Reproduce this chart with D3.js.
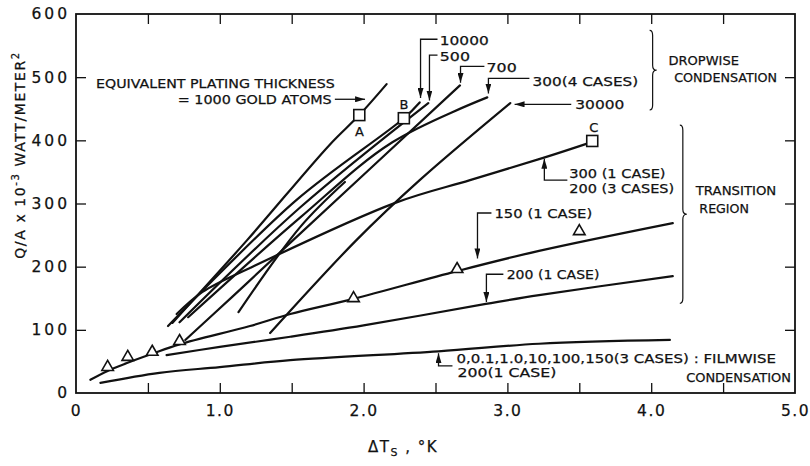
<!DOCTYPE html>
<html lang="en">
<head>
<meta charset="utf-8">
<title>Condensation heat flux vs plating thickness</title>
<script src="https://cdn.jsdelivr.net/npm/d3@7"></script>
<style>
  body { margin: 0; background: #fff; }
  text { font-family: "DejaVu Sans", sans-serif; fill: #111; stroke: #111; stroke-width: 0.25px; }
</style>
</head>
<body>
<div id="chart"></div>
<script>
// x = delta Ts (K), y = Q/A x 10^-3 (W/m^2)
let curve1000 = [[0.67,111],[1.19,242],[1.76,392],[1.97,440],[2.16,489]];
let curve10000 = [[0.64,106],[1.53,305],[2.28,435],[2.39,460]];
let curve500 = [[0.72,112],[1.56,294],[2.45,459]];
let curve700 = [[0.76,84],[1.09,153],[1.51,242],[2.67,487]];
let curve300a = [[0.78,120],[1.56,278],[2.2,397],[2.86,468]];
let curve300b = [[1.13,128],[1.56,263],[1.87,334]];
let curve30000 = [[1.35,95],[1.95,242],[2.39,337],[3.02,459]];
let curveC = [[0.70,125],[0.88,160],[1.21,198],[2.22,301],[2.74,337],[3.26,373],[3.57,396]];
let curve150 = [[0.10,21],[0.22,35],[0.35,47],[0.53,62],[0.72,77],[1.21,106],[1.49,125],
                [1.93,149],[2.65,193],[3.22,225],[4.15,269]];
let curve200 = [[0.63,60],[1.0,73],[1.49,89],[2.0,107],[2.85,141],[3.22,155],[4.15,185]];
let curveFilm = [[0.17,16],[0.58,32],[1.0,41],[1.49,52],[2.52,66],[3.22,78],[4.13,84]];

let triangles = [[0.22,41],[0.36,57],[0.53,65],[0.72,82],[1.93,150],[2.65,196],[3.5,256]];
let squares = [[1.97,440],[2.28,435],[3.59,399]];

let xTicks = [0.5,1,1.5,2,2.5,3,3.5,4,4.5];
let xLabelValues = [0,1,2,3,4,5];
let xLabels = ['0','1.0','2.0','3.0','4.0','5.0'];
let yTicks = [100,200,300,400,500];
let yLabelValues = [0,100,200,300,400,500,600];

let curves = [curve1000, curve10000, curve500, curve700, curve300a, curve300b,
              curve30000, curveC, curve150, curve200, curveFilm];

let width = 810;
let height = 466;
let svg = d3.select('#chart').append('svg')
  .attr('width', width)
  .attr('height', height)

let x = d3.scaleLinear().domain([0,5]).range([76,795])
let y = d3.scaleLinear().domain([0,600]).range([393,14])

svg.append('defs').append('marker')
  .attr('id','arrow')
  .attr('viewBox','0 0 10 6')
  .attr('refX',10).attr('refY',3)
  .attr('markerWidth',10).attr('markerHeight',6)
  .attr('markerUnits','userSpaceOnUse')
  .attr('orient','auto')
  .append('path').attr('d','M0,0 L10,3 L0,6 z').attr('fill','#111')

// frame
svg.append('rect')
  .attr('x', x(0)).attr('y', y(600))
  .attr('width', x(5)-x(0)).attr('height', y(0)-y(600))
  .attr('fill','none').attr('stroke','#111').attr('stroke-width',1.8)

// inward ticks on all four sides
function ticksOnly(axis, tr) {
  let g = svg.append('g').attr('transform', tr).call(axis)
  g.select('.domain').remove()
  g.selectAll('line').attr('stroke','#111').attr('stroke-width',1.3)
  return g
}
ticksOnly(d3.axisBottom(x).tickValues(xTicks).tickSize(-10).tickFormat(''), `translate(0,${y(0)})`)
ticksOnly(d3.axisTop(x).tickValues(xTicks).tickSize(-10).tickFormat(''), `translate(0,${y(600)})`)
ticksOnly(d3.axisLeft(y).tickValues(yTicks).tickSize(-10).tickFormat(''), `translate(${x(0)},0)`)
ticksOnly(d3.axisRight(y).tickValues(yTicks).tickSize(-10).tickFormat(''), `translate(${x(5)},0)`)

// tick labels
let gx = svg.append('g').attr('transform', `translate(0,${y(0)})`)
  .call(d3.axisBottom(x).tickValues(xLabelValues).tickSize(0).tickPadding(12)
        .tickFormat((d,i) => xLabels[i]))
gx.select('.domain').remove()
gx.selectAll('text').attr('font-size','15.5px').attr('letter-spacing','1.5px')
  .attr('font-family','DejaVu Sans').attr('fill','#111')

let gy = svg.append('g').attr('transform', `translate(${x(0)},0)`)
  .call(d3.axisLeft(y).tickValues(yLabelValues).tickSize(0).tickPadding(6))
gy.select('.domain').remove()
gy.selectAll('text').attr('font-size','15.5px').attr('letter-spacing','3px')
  .attr('font-family','DejaVu Sans').attr('fill','#111')

// curves
let line = d3.line()
  .x(d => x(d[0]))
  .y(d => y(d[1]))
  .curve(d3.curveCatmullRom.alpha(0.5))

svg.append('g').selectAll('path')
  .data(curves)
  .enter()
  .append('path')
  .attr('d', line)
  .attr('fill','none')
  .attr('stroke','#111')
  .attr('stroke-width',2.2)
  .attr('stroke-linecap','round')

// open markers
svg.append('g').selectAll('path')
  .data(triangles)
  .enter()
  .append('path')
  .attr('transform', d => `translate(${x(d[0])},${y(d[1])})`)
  .attr('d', d3.symbol(d3.symbolTriangle, 58))
  .attr('fill','#fff').attr('stroke','#111').attr('stroke-width',1.6)

svg.append('g').selectAll('rect')
  .data(squares)
  .enter()
  .append('rect')
  .attr('x', d => x(d[0]) - 5.5)
  .attr('y', d => y(d[1]) - 5.5)
  .attr('width',11).attr('height',11)
  .attr('fill','#fff').attr('stroke','#111').attr('stroke-width',1.6)

// annotations (positions in data units)
let notes = [
  {t:'EQUIVALENT PLATING THICKNESS', x:0.139, x2:1.80, y:490},
  {t:'= 1000 GOLD ATOMS', x:0.708, x2:1.778, y:465},
  {t:'10000', x:2.53, x2:2.87, y:559},
  {t:'500', x:2.53, x2:2.74, y:533},
  {t:'700', x:2.855, x2:3.065, y:516},
  {t:'300(4 CASES)', x:3.175, x2:3.91, y:494},
  {t:'30000', x:3.472, x2:3.813, y:457},
  {t:'DROPWISE', x:4.12, x2:4.61, y:527},
  {t:'CONDENSATION', x:4.16, x2:4.875, y:500},
  {t:'A', x:1.94, y:414},
  {t:'B', x:2.25, y:457},
  {t:'C', x:3.57, y:421},
  {t:'300 (1 CASE)', x:3.43, x2:4.10, y:348},
  {t:'200 (3 CASES)', x:3.43, x2:4.16, y:324},
  {t:'TRANSITION', x:4.31, x2:4.87, y:321},
  {t:'REGION', x:4.335, x2:4.68, y:293},
  {t:'150 (1 CASE)', x:2.91, x2:3.59, y:285},
  {t:'200 (1 CASE)', x:2.995, x2:3.64, y:188},
  {t:'0,0.1,1.0,10,100,150(3 CASES) : FILMWISE', x:2.646, x2:4.868, y:55},
  {t:'200(1 CASE)', x:2.653, x2:3.34, y:32},
  {t:'CONDENSATION', x:4.243, x2:4.972, y:25}
];

svg.append('g').selectAll('text')
  .data(notes)
  .enter()
  .append('text')
  .attr('x', d => x(d.x))
  .attr('y', d => y(d.y))
  .attr('dy','0.36em')
  .attr('font-size','13px')
  .attr('textLength', d => d.x2 ? x(d.x2) - x(d.x) : null)
  .attr('lengthAdjust','spacingAndGlyphs')
  .text(d => d.t)

// leader lines; the arrow sits at the last point
let leaders = [
  [[1.80,465],[2.01,465]],
  [[2.514,560],[2.396,560],[2.396,467]],
  [[2.514,535],[2.458,535],[2.458,463]],
  [[2.84,517],[2.674,517],[2.674,491]],
  [[3.153,498],[2.868,498],[2.868,474]],
  [[3.444,457],[3.05,457]],
  [[3.417,337],[3.257,337],[3.257,371]],
  [[2.889,285],[2.792,285],[2.792,213]],
  [[2.972,188],[2.854,188],[2.854,144]],
  [[2.618,43],[2.521,43],[2.521,63]]
];
let straight = d3.line().x(d => x(d[0])).y(d => y(d[1]))

svg.append('g').selectAll('path')
  .data(leaders)
  .enter()
  .append('path')
  .attr('d', straight)
  .attr('fill','none')
  .attr('stroke','#111')
  .attr('stroke-width',1.3)
  .attr('marker-end','url(#arrow)')

// curly braces
function brace(xv, y1, y2) {
  let bx = x(xv), t = y(y1), b = y(y2), m = (t + b) / 2
  return `M${bx-3},${t} Q${bx},${t} ${bx},${t+5} L${bx},${m-5} Q${bx},${m} ${bx+4},${m}` +
         ` Q${bx},${m} ${bx},${m+5} L${bx},${b-5} Q${bx},${b} ${bx-3},${b}`
}
svg.append('path').attr('d', brace(4.01, 574, 448))
  .attr('fill','none').attr('stroke','#111').attr('stroke-width',1.2)
svg.append('path').attr('d', brace(4.22, 424, 142))
  .attr('fill','none').attr('stroke','#111').attr('stroke-width',1.2)

// axis titles
let yt = svg.append('text')
  .attr('transform','translate(20,155) rotate(-90)')
  .attr('text-anchor','middle')
  .attr('dy','0.36em')
  .attr('font-size','14px')
  .attr('letter-spacing','1.6px')
yt.append('tspan').text('Q/A x 10')
yt.append('tspan').attr('font-size','10px').attr('dy','-6').text('-3')
yt.append('tspan').attr('dy','6').text(' WATT/METER')
yt.append('tspan').attr('font-size','10px').attr('dy','-6').text('2')

let xt = svg.append('text')
  .attr('x', 403).attr('y', 452)
  .attr('text-anchor','middle')
  .attr('font-size','15px')
  .attr('letter-spacing','1.5px')
xt.append('tspan').text('ΔT')
xt.append('tspan').attr('font-size','11px').attr('dy','4').text('S')
xt.append('tspan').attr('dy','-4').text(' , °K')
</script>
</body>
</html>
